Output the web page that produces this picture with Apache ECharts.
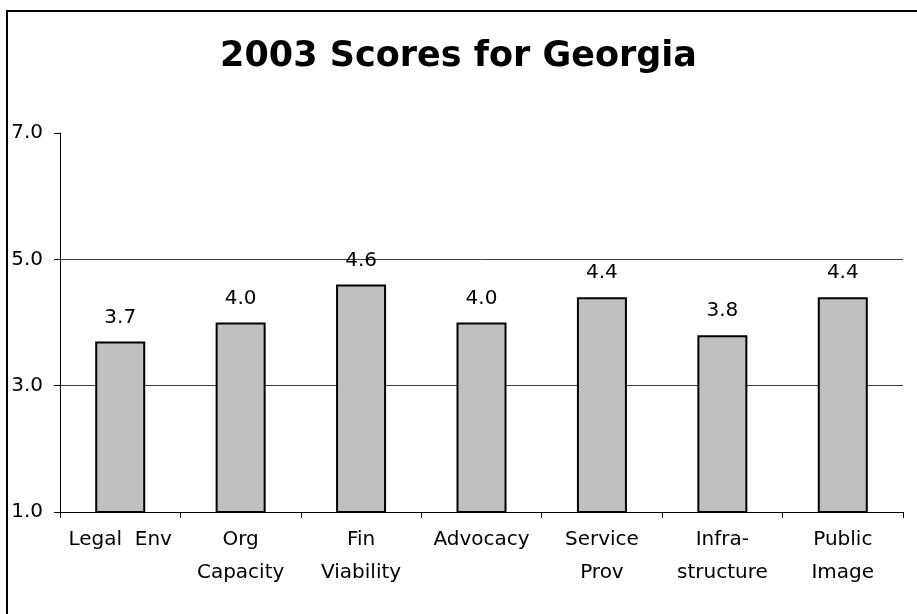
<!DOCTYPE html>
<html>
<head>
<meta charset="utf-8">
<script src="https://cdn.jsdelivr.net/npm/echarts@6/dist/echarts.min.js"></script>
<style>
html,body{margin:0;padding:0;background:#fff;}
#chart{width:917px;height:614px;}
</style>
</head>
<body>
<div id="chart"></div>
<script>
var titleText = '2003 Scores for Georgia';
var categories = ['Legal  Env', 'Org\nCapacity', 'Fin\nViability', 'Advocacy', 'Service\nProv', 'Infra-\nstructure', 'Public\nImage'];
var scores = [3.7, 4.0, 4.6, 4.0, 4.4, 3.8, 4.4];
var yMin = 1, yMax = 7, yStep = 2;

var FONT = 'DejaVu Sans';
var chart = echarts.init(document.getElementById('chart'), null, {renderer: 'canvas'});
chart.setOption({
  backgroundColor: '#ffffff',
  animation: false,
  title: {
    text: titleText,
    left: 'center',
    top: 34,
    textStyle: {fontFamily: FONT, fontWeight: 'bold', fontSize: 35, color: '#000'}
  },
  graphic: [{
    type: 'rect',
    shape: {x: 7, y: 11, width: 1000, height: 1000},
    style: {fill: 'none', stroke: '#000', lineWidth: 2},
    silent: true,
    z: 100
  }],
  grid: {left: 60, right: 14, top: 133, bottom: 102, containLabel: false},
  xAxis: {
    type: 'category',
    data: categories,
    boundaryGap: true,
    axisLine: {show: true, lineStyle: {color: '#000', width: 1}},
    axisTick: {show: true, alignWithLabel: false, length: 6, lineStyle: {color: '#000'}},
    axisLabel: {
      interval: 0,
      margin: 11,
      fontFamily: FONT,
      fontSize: 20,
      lineHeight: 33,
      color: '#000'
    },
    splitLine: {show: false}
  },
  yAxis: {
    type: 'value',
    min: yMin,
    max: yMax,
    interval: yStep,
    axisLine: {show: true, lineStyle: {color: '#000', width: 1}},
    axisTick: {show: true, length: 6, lineStyle: {color: '#000'}},
    axisLabel: {
      margin: 17,
      fontFamily: FONT,
      fontSize: 20,
      color: '#000',
      formatter: function (v) { return v.toFixed(1); }
    },
    splitLine: {show: true, showMaxLine: false, showMinLine: false, lineStyle: {color: '#404040', width: 1}}
  },
  series: [{
    type: 'bar',
    data: scores,
    barWidth: 50,
    itemStyle: {color: '#c0c0c0', borderColor: '#000', borderWidth: 2},
    label: {
      show: true,
      position: 'top',
      distance: 14,
      fontFamily: FONT,
      fontSize: 20,
      color: '#000',
      formatter: function (p) { return p.value.toFixed(1); }
    }
  }]
});
</script>
</body>
</html>
